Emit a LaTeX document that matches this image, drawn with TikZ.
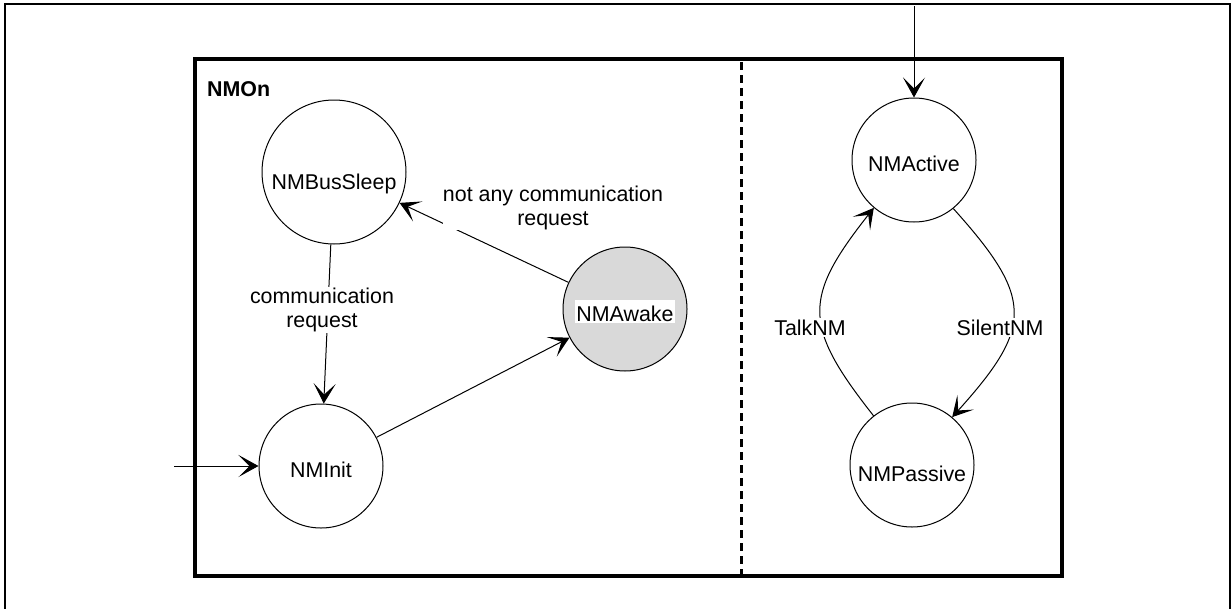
\documentclass[tikz,border=0pt]{standalone}
\usepackage{fontspec}
\setmainfont{Liberation Sans}
\usetikzlibrary{arrows.meta}
\definecolor{awakegray}{RGB}{217,217,217}
\begin{document}
\begin{tikzpicture}[x=1pt,y=-1pt,
  every node/.style={font=\fontsize{21.4}{24}\selectfont},
  state/.style={circle,draw,line width=1pt,minimum size=124pt,inner sep=0pt},
  arr/.style={line width=1pt,-{Stealth[length=20pt,width=22pt,inset=11pt]}},
  lbl/.style={fill=white,inner sep=1.5pt,align=center}]
\useasboundingbox (0,0) rectangle (1232,608);
% frames
\draw[line width=2.5pt] (5,610) -- (5,4) -- (1230,4) -- (1230,610);
\draw[line width=4.5pt] (195,59) rectangle (1062,576);
\draw[line width=3pt,dash pattern=on 8pt off 5pt] (741,62) -- (741,574);
% states
\node[state,minimum size=144pt] (bus) at (334,172) {\raisebox{-17.2pt}[0pt][0pt]{NMBusSleep}};
\node[state] (init) at (321,466) {\raisebox{-11.2pt}[0pt][0pt]{NMInit}};
\node[state,fill=awakegray] (awake) at (625,309) {\setlength{\fboxsep}{1.5pt}\raisebox{-12.2pt}[0pt][0pt]{\colorbox{white}{\rule{0pt}{20pt}NMAwake}}};
\node[state] (active) at (914,160) {\raisebox{-11.2pt}[0pt][0pt]{NMActive}};
\node[state] (passive) at (912,465) {\raisebox{-16.7pt}[0pt][0pt]{NMPassive}};
% entry points
\coordinate (initin) at (174,466);
\coordinate (actin) at (914,6);
% connectors
\draw[arr] (initin) -- (init);
\draw[arr] (actin) -- (active);
\draw[arr] (bus) -- (init);
\draw[arr] (init) -- (awake);
\draw[arr] (awake) -- (bus);
\draw[arr] (active.-51) .. controls +(81,90) and +(81,-90) .. (passive.50);
\draw[arr] (passive.128) .. controls +(-71,-90) and +(-71,90) .. (active.230);
% labels
\node[lbl] (lcomm) at (322,310) {communication\\request};
\node[lbl,inner sep=0pt] (lnot) at (553,208) {not any communication\\request};
\node[lbl] (ltalk) at (810,327.5) {TalkNM};
\node[lbl] (lsilent) at (1000,327.5) {SilentNM};
\node[anchor=west,inner sep=0pt,font=\bfseries\fontsize{21.4}{24}\selectfont] (non) at (207,89) {NMOn};
\end{tikzpicture}
\end{document}
